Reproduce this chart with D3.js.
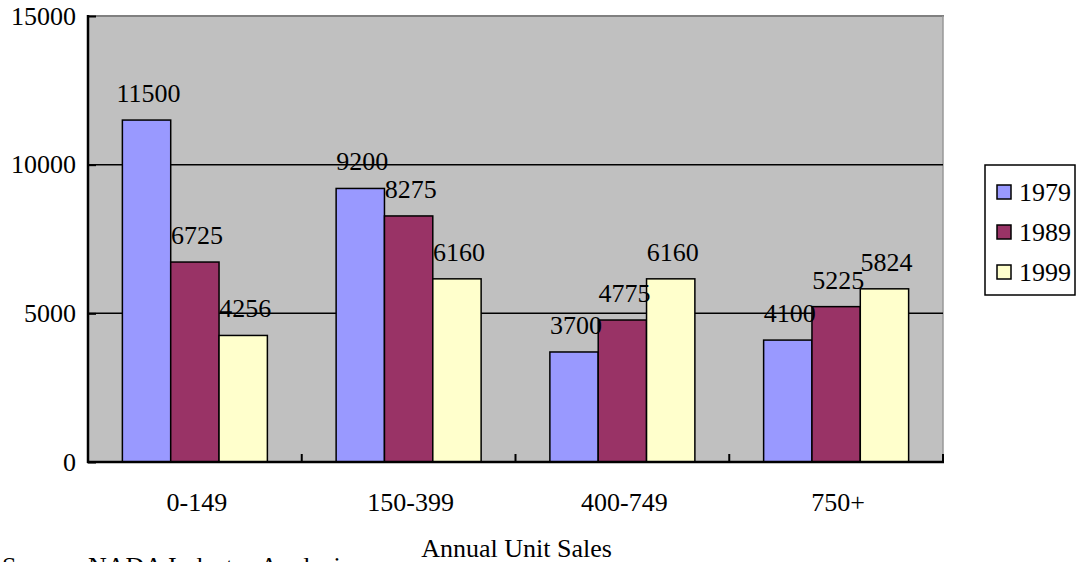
<!DOCTYPE html>
<html>
<head>
<meta charset="utf-8">
<script src="https://cdn.jsdelivr.net/npm/d3@7"></script>
<style>
  html, body { margin: 0; padding: 0; background: #fff; overflow: hidden; }
  svg { display: block; }
  text { font-family: "Liberation Serif", "Times New Roman", serif; fill: #000; }
</style>
</head>
<body>
<svg id="chart" width="1076" height="562"></svg>
<script>
// Dealership counts by annual unit sales bracket
const categories = ["0-149", "150-399", "400-749", "750+"];
const years = ["1979", "1989", "1999"];
const values1979 = [11500, 9200, 3700, 4100];
const values1989 = [6725, 8275, 4775, 5225];
const values1999 = [4256, 6160, 6160, 5824];
const yTicks = [0, 5000, 10000, 15000];
const colors = ["#9999FF", "#993366", "#FFFFCC"];

const seriesValues = [values1979, values1989, values1999];
const rows = categories.map((c, i) => ({
  category: c,
  bars: years.map((y, s) => ({ year: y, value: seriesValues[s][i], s }))
}));

const svg = d3.select("#chart");
const plot = { left: 88, right: 943, top: 16, bottom: 462 };
const fontSize = 26;

const x = d3.scaleBand().domain(categories).range([plot.left, plot.right]).padding(0);
const groupWidth = 145;
const xInner = d3.scaleBand().domain(years)
  .range([(x.bandwidth() - groupWidth) / 2, (x.bandwidth() + groupWidth) / 2]).padding(0);
const y = d3.scaleLinear().domain([0, 15000]).range([plot.bottom, plot.top]);

// plot area background
svg.append("rect")
  .attr("x", plot.left).attr("y", plot.top)
  .attr("width", plot.right - plot.left).attr("height", plot.bottom - plot.top)
  .attr("fill", "#C0C0C0");

// top and right frame edges
svg.append("line")
  .attr("x1", plot.left).attr("x2", plot.right + 1)
  .attr("y1", plot.top).attr("y2", plot.top)
  .attr("stroke", "#808080").attr("stroke-width", 2);
svg.append("line")
  .attr("x1", plot.right).attr("x2", plot.right)
  .attr("y1", plot.top).attr("y2", plot.bottom)
  .attr("stroke", "#999999").attr("stroke-width", 1.5);

// horizontal gridlines
svg.append("g").selectAll("line")
  .data(yTicks.filter(t => t > 0 && t < 15000))
  .join("line")
  .attr("x1", plot.left).attr("x2", plot.right)
  .attr("y1", d => y(d)).attr("y2", d => y(d))
  .attr("stroke", "#000").attr("stroke-width", 1.5);

// bars
const groups = svg.append("g").selectAll("g")
  .data(rows).join("g")
  .attr("transform", d => `translate(${x(d.category)},0)`);

groups.selectAll("rect")
  .data(d => d.bars).join("rect")
  .attr("x", d => xInner(d.year))
  .attr("y", d => y(d.value))
  .attr("width", xInner.bandwidth())
  .attr("height", d => y(0) - y(d.value))
  .attr("fill", d => colors[d.s])
  .attr("stroke", "#000").attr("stroke-width", 1.5);

// value labels
groups.selectAll("text.value")
  .data(d => d.bars).join("text")
  .attr("class", "value")
  .attr("x", d => xInner(d.year) + xInner.bandwidth() / 2 + 2)
  .attr("y", d => y(d.value) - 18)
  .attr("text-anchor", "middle")
  .attr("font-size", fontSize)
  .text(d => d.value);

// y axis: line, inward ticks, labels
const yAxis = d3.axisRight(y).tickValues(yTicks).tickSize(8).tickFormat("");
svg.append("g")
  .attr("transform", `translate(${plot.left},0)`)
  .call(yAxis)
  .call(g => g.select(".domain").remove())
  .call(g => g.selectAll(".tick line").attr("stroke", "#000").attr("stroke-width", 2));
svg.append("line")
  .attr("x1", plot.left).attr("x2", plot.left)
  .attr("y1", plot.top - 1).attr("y2", plot.bottom + 1)
  .attr("stroke", "#000").attr("stroke-width", 2.5);
svg.append("g").selectAll("text")
  .data(yTicks).join("text")
  .attr("x", 76)
  .attr("y", d => y(d))
  .attr("dy", "0.33em")
  .attr("text-anchor", "end")
  .attr("font-size", fontSize)
  .text(d => d);

// x axis: line, inward boundary ticks, category labels
const boundaries = categories.map(c => x(c)).concat([plot.right]);
svg.append("g").selectAll("line")
  .data(boundaries).join("line")
  .attr("x1", d => d).attr("x2", d => d)
  .attr("y1", plot.bottom).attr("y2", plot.bottom - 8)
  .attr("stroke", "#000").attr("stroke-width", 2);
svg.append("line")
  .attr("x1", plot.left - 1).attr("x2", plot.right + 1)
  .attr("y1", plot.bottom).attr("y2", plot.bottom)
  .attr("stroke", "#000").attr("stroke-width", 2.5);
svg.append("g").selectAll("text")
  .data(categories).join("text")
  .attr("x", d => x(d) + x.bandwidth() / 2 + 2)
  .attr("y", 511)
  .attr("text-anchor", "middle")
  .attr("font-size", fontSize)
  .text(d => d);

// axis title
svg.append("text")
  .attr("x", (plot.left + plot.right) / 2 + 1)
  .attr("y", 557)
  .attr("text-anchor", "middle")
  .attr("font-size", fontSize)
  .text("Annual Unit Sales");

// source note
svg.append("text")
  .attr("x", 2)
  .attr("y", 575)
  .attr("font-size", fontSize)
  .text("Source: NADA Industry Analysis");

// legend
const legend = svg.append("g").attr("transform", "translate(985,165)");
legend.append("rect")
  .attr("width", 90).attr("height", 130)
  .attr("fill", "#fff").attr("stroke", "#000").attr("stroke-width", 1.5);
const items = legend.selectAll("g.item")
  .data(years).join("g")
  .attr("class", "item")
  .attr("transform", (d, i) => `translate(0,${27 + i * 40})`);
items.append("rect")
  .attr("x", 12).attr("y", -7)
  .attr("width", 14).attr("height", 14)
  .attr("fill", (d, i) => colors[i])
  .attr("stroke", "#000").attr("stroke-width", 1.5);
items.append("text")
  .attr("x", 34)
  .attr("dy", "0.35em")
  .attr("font-size", fontSize)
  .text(d => d);
</script>
</body>
</html>
